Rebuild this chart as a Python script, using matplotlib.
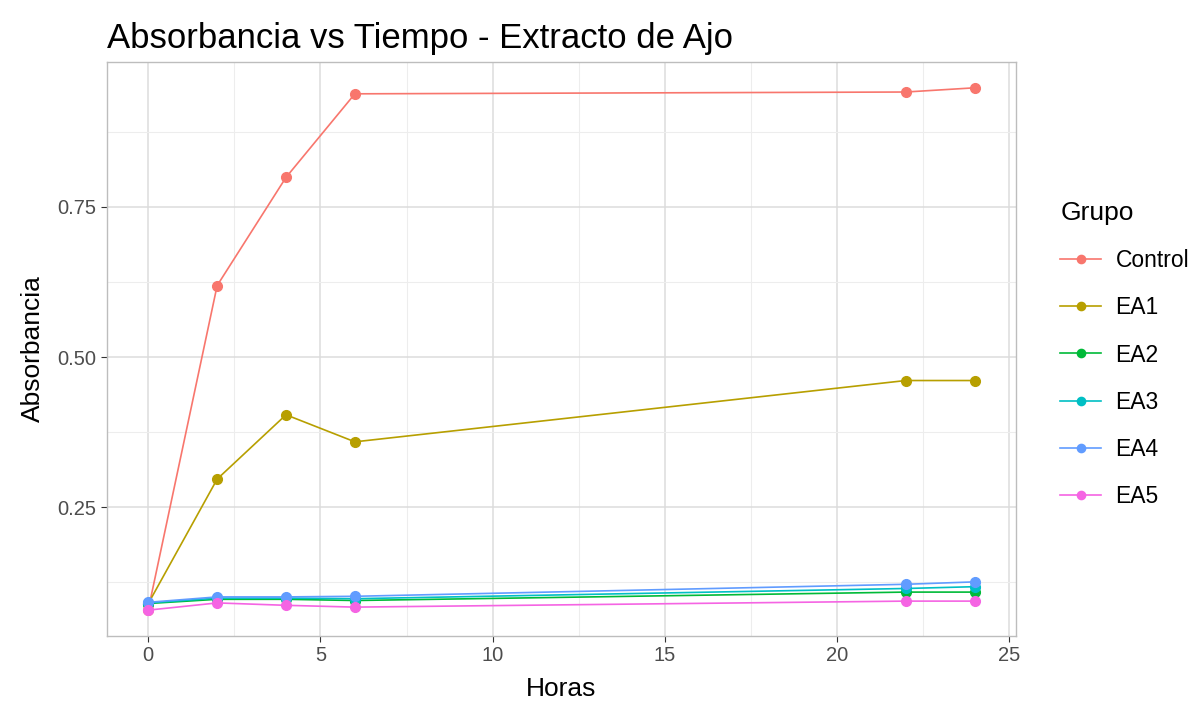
import matplotlib.pyplot as plt
from matplotlib.ticker import MultipleLocator

plt.rcParams['font.family'] = ['Liberation Sans', 'DejaVu Sans']

# Datos
horas = [0, 2, 4, 6, 22, 24]
grupos = ['Control', 'EA1', 'EA2', 'EA3', 'EA4', 'EA5']
control = [0.080, 0.619, 0.799, 0.938, 0.941, 0.948]
ea1 = [0.090, 0.297, 0.404, 0.359, 0.461, 0.461]
ea2 = [0.090, 0.097, 0.097, 0.095, 0.109, 0.109]
ea3 = [0.091, 0.099, 0.099, 0.098, 0.115, 0.118]
ea4 = [0.092, 0.101, 0.101, 0.102, 0.122, 0.126]
ea5 = [0.079, 0.091, 0.087, 0.084, 0.094, 0.094]
valores = [control, ea1, ea2, ea3, ea4, ea5]
colores = ['#F8766D', '#B79F00', '#00BA38', '#00BFC4', '#619CFF', '#F564E3']

fig = plt.figure(figsize=(11.98, 7.09), dpi=100)
ax = fig.add_axes([0.0893, 0.103, 0.7587, 0.8096])

for nombre, y, c in zip(grupos, valores, colores):
    ax.plot(horas, y, color=c, lw=1.2, marker='o', markersize=7, label=nombre, zorder=3)

ax.set_xlim(-1.2, 25.2)
ax.set_ylim(0.036, 0.991)
ax.xaxis.set_major_locator(MultipleLocator(5))
ax.xaxis.set_minor_locator(MultipleLocator(2.5))
ax.yaxis.set_major_locator(MultipleLocator(0.25))
ax.yaxis.set_minor_locator(MultipleLocator(0.125))
ax.set_yticks([0.25, 0.50, 0.75])
ax.set_yticklabels(['0.25', '0.50', '0.75'])
ax.grid(which='major', color='#DCDCDC', lw=1.1, zorder=0)
ax.grid(which='minor', color='#EDEDED', lw=0.8, zorder=0)
ax.tick_params(which='major', length=4, color='#333333', labelsize=14.5, labelcolor='#4D4D4D')
ax.tick_params(which='minor', length=0)
for s in ax.spines.values():
    s.set_color('#BDBDBD')
    s.set_linewidth(1)

ax.set_xlabel('Horas', fontsize=19, labelpad=8)
ax.set_ylabel('Absorbancia', fontsize=19, labelpad=9)
fig.text(0.0893, 0.945, 'Absorbancia vs Tiempo - Extracto de Ajo', fontsize=25, va='center', ha='left')

leg = fig.legend(loc='center left', bbox_to_anchor=(0.868, 0.5), frameon=False,
                 title='Grupo', fontsize=16.5, title_fontsize=19, labelspacing=1.05,
                 handlelength=1.75, handletextpad=0.65, markerscale=0.85)
leg._legend_box.align = 'left'

fig.savefig('out.png', dpi=100)
